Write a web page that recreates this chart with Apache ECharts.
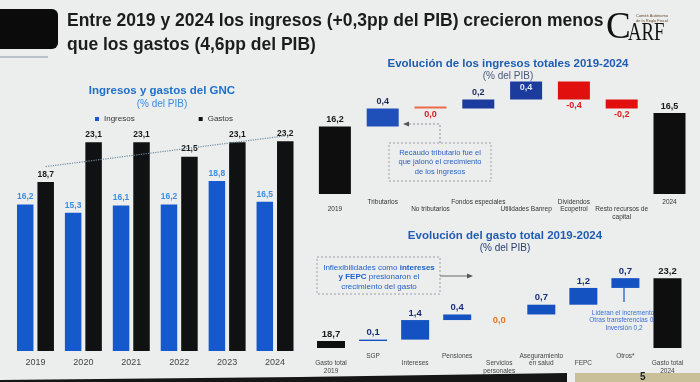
<!DOCTYPE html>
<html><head><meta charset="utf-8">
<script src="https://cdn.jsdelivr.net/npm/echarts@6/dist/echarts.min.js"></script>
<style>html,body{margin:0;padding:0;background:#eceeee}#c{width:700px;height:382px}</style>
</head><body><div id="c"></div>
<script>
// ---- Data ----
const years = ['2019','2020','2021','2022','2023','2024'];
const ingresos = [16.2,15.3,16.1,16.2,18.8,16.5];
const gastos = [18.7,23.1,23.1,21.5,23.1,23.2];
const trendGastos = [20.4, 23.8]; // dotted trend line ends read at 2019 and 2024

const incCats = ['2019','Tributarios','No tributarios','Fondos especiales','Utilidades Banrep','Dividendos\nEcopetrol','Resto recursos de\ncapital','2024'];
const incStart = 16.2, incEnd = 16.5;
const incChanges = [0.4,0.0,0.2,0.4,-0.4,-0.2];

const gasCats = ['Gasto total\n2019','SGP','Intereses','Pensiones','Servicios\npersonales','Aseguramiento\nen salud','FEPC','Otros*','Gasto total\n2024'];
const gasStart = 18.7, gasEnd = 23.2;
const gasChanges = [0.1,1.4,0.4,0.0,0.7,1.2,0.7];

const FONT = 'Liberation Sans, Arial, sans-serif';
const fmt = v => (Math.round(v*10)/10).toFixed(1).replace('.', ',');

function waterfall(start, end, changes){
  const total = [start].concat(changes.map(()=>'-')).concat([end]);
  const base = ['-'], delta = ['-'];
  let lvl = start;
  changes.forEach(c => {
    const next = Math.round((lvl + c)*100)/100;
    base.push(Math.min(lvl, next));
    delta.push(Math.abs(c));
    lvl = next;
  });
  base.push('-'); delta.push('-');
  return {total, base, delta};
}
const wInc = waterfall(incStart, incEnd, incChanges);
const wGas = waterfall(gasStart, gasEnd, gasChanges);

const incLower = [0,2,4,6];
const gasLower = [0,2,4,6,8];

function incDeltaItem(v, i){
  if (v === '-') return '-';
  const c = incChanges[i-1];
  let color = c > 0 ? (i===1 ? '#1f4fb8' : '#1b3c9c') : (c < 0 ? '#e20f0f' : '#ec6a45');
  let label;
  if (c < 0 || c === 0) label = {show:true, position:'bottom', distance:2, color:'#e21a1a', fontSize:9, fontWeight:'bold', fontFamily:FONT, formatter: () => fmt(c)};
  else if (i === 4) label = {show:true, position:'insideTop', distance:2, color:'#dfe6f5', fontSize:9, fontWeight:'bold', fontFamily:FONT, formatter: () => fmt(c)};
  else label = {show:true, position:'top', distance:2, color:'#1c2a55', fontSize:9, fontWeight:'bold', fontFamily:FONT, formatter: () => fmt(c)};
  return {value: v, itemStyle:{color}, label};
}
function gasDeltaItem(v, i){
  if (v === '-') return '-';
  const c = gasChanges[i-1];
  let label;
  if (c === 0) label = {show:true, position:'bottom', distance:1, color:'#e8731f', fontSize:9.5, fontWeight:'bold', fontFamily:FONT, formatter: () => fmt(c)};
  else label = {show:true, position:'top', distance:2, color:'#1a2f78', fontSize:9.5, fontWeight:'bold', fontFamily:FONT, formatter: () => fmt(c)};
  return {value: v, itemStyle:{color:'#1452c2'}, label};
}

const chart = echarts.init(document.getElementById('c'), null, {renderer:'canvas'});
const option = {
  backgroundColor: '#eceeee',
  animation: false,
  textStyle: {fontFamily: FONT},
  title: [
    {text:'Ingresos y gastos del GNC', subtext:'(% del PIB)', left:157, top:80, textAlign:'center', itemGap:2,
     textStyle:{color:'#1f6fc8', fontSize:11.5, fontWeight:'bold', fontFamily:FONT},
     subtextStyle:{color:'#3b8be2', fontSize:10, fontFamily:FONT}},
    {text:'Evolución de los ingresos totales 2019-2024', subtext:'(% del PIB)', left:503, top:53, textAlign:'center', itemGap:1,
     textStyle:{color:'#1f5cb3', fontSize:11.5, fontWeight:'bold', fontFamily:FONT},
     subtextStyle:{color:'#4a5878', fontSize:10, fontFamily:FONT}},
    {text:'Evolución del gasto total 2019-2024', subtext:'(% del PIB)', left:500, top:225, textAlign:'center', itemGap:1,
     textStyle:{color:'#1f5cb3', fontSize:11.5, fontWeight:'bold', fontFamily:FONT},
     subtextStyle:{color:'#2a4070', fontSize:10, fontFamily:FONT}}
  ],
  legend: {left:90, top:110, itemWidth:4, itemHeight:4, itemGap:64, icon:'rect',
    textStyle:{fontSize:8, color:'#333', fontFamily:FONT},
    data:['Ingresos','Gastos']},
  grid: [
    {left:11.5, right:401, top:125, bottom:31},
    {left:311, right:6.6, top:68, bottom:188},
    {left:310, right:11.5, top:260, bottom:34}
  ],
  xAxis: [
    {type:'category', gridIndex:0, data:years, axisLine:{show:false}, axisTick:{show:false},
     axisLabel:{fontSize:9, color:'#444', margin:7, fontFamily:FONT}},
    {type:'category', gridIndex:1, data:incCats, axisLine:{show:false}, axisTick:{show:false},
     axisLabel:{fontSize:6.5, lineHeight:7.5, color:'#333', margin:4, interval:0, fontFamily:FONT,
       formatter:(v,i)=> incLower.includes(i) ? '\n'+v : v}},
    {type:'category', gridIndex:2, data:gasCats, axisLine:{show:false}, axisTick:{show:false},
     axisLabel:{fontSize:6.5, lineHeight:7.5, color:'#444', margin:4, interval:0, fontFamily:FONT,
       formatter:(v,i)=> gasLower.includes(i) ? '\n'+v : v}}
  ],
  yAxis: [
    {type:'value', gridIndex:0, min:0, max:25, show:false},
    {type:'value', gridIndex:1, min:14.7, max:17.5, show:false},
    {type:'value', gridIndex:2, min:18.2, max:24.5, show:false}
  ],
  series: [
    {name:'Ingresos', type:'bar', xAxisIndex:0, yAxisIndex:0, data:ingresos, barWidth:16.5, barGap:'24%',
     itemStyle:{color:'#1659cc'},
     label:{show:true, position:'top', distance:3, color:'#3a8ee6', fontSize:8.5, fontWeight:'bold', fontFamily:FONT, formatter:p=>fmt(p.value)}},
    {name:'Gastos', type:'bar', xAxisIndex:0, yAxisIndex:0, data:gastos, barWidth:16.5, barGap:'24%',
     itemStyle:{color:'#101112'},
     label:{show:true, position:'top', distance:3, color:'#1a1a1a', fontSize:8.5, fontWeight:'bold', fontFamily:FONT, formatter:p=>fmt(p.value)},
     markLine:{symbol:'none', silent:true, label:{show:false},
       lineStyle:{color:'#6d8aa0', type:'dotted', width:1.2},
       data:[[{coord:[0, trendGastos[0]]},{coord:[5, trendGastos[1]]}]]}},
    // income waterfall
    {type:'bar', xAxisIndex:1, yAxisIndex:1, stack:'inc', data:wInc.total, barWidth:32,
     itemStyle:{color:'#0e0e0f'},
     label:{show:true, position:'top', distance:2, color:'#1a1a1a', fontSize:9, fontWeight:'bold', fontFamily:FONT, formatter:p=>fmt(p.value)}},
    {type:'bar', xAxisIndex:1, yAxisIndex:1, stack:'inc', data:wInc.base, barWidth:32,
     itemStyle:{color:'transparent'}, silent:true},
    {type:'bar', xAxisIndex:1, yAxisIndex:1, stack:'inc', barWidth:32, barMinHeight:2,
     data: wInc.delta.map(incDeltaItem)},
    // spending waterfall
    {type:'bar', xAxisIndex:2, yAxisIndex:2, stack:'gas', data:wGas.total, barWidth:28,
     itemStyle:{color:'#0e0e0f'},
     label:{show:true, position:'top', distance:2, color:'#1a1a1a', fontSize:9.5, fontWeight:'bold', fontFamily:FONT, formatter:p=>fmt(p.value)}},
    {type:'bar', xAxisIndex:2, yAxisIndex:2, stack:'gas', data:wGas.base, barWidth:28,
     itemStyle:{color:'transparent'}, silent:true},
    {type:'bar', xAxisIndex:2, yAxisIndex:2, stack:'gas', barWidth:28,
     data: wGas.delta.map(gasDeltaItem)}
  ],
  graphic: [
    {type:'rect', shape:{x:-6, y:9, width:64, height:40, r:6}, style:{fill:'#0b0b0b'}},
    {type:'line', shape:{x1:0, y1:57, x2:48, y2:57}, style:{stroke:'#8a98a8', lineWidth:1}},
    {type:'text', x:67, y:12, style:{text:'Entre 2019 y 2024 los ingresos (+0,3pp del PIB) crecieron menos', fill:'#1c1c1c', font:'bold 17.5px Liberation Sans'}},
    {type:'text', x:67, y:36, style:{text:'que los gastos (4,6pp del PIB)', fill:'#1c1c1c', font:'bold 17.5px Liberation Sans'}},
    // CARF logo
    {type:'text', x:606, y:10, style:{text:'C', fill:'#111', font:'37px Liberation Serif'}},
    {type:'text', x:628, y:20, scaleX:0.72, style:{text:'ARF', fill:'#111', font:'26px Liberation Serif'}},
    {type:'text', x:636, y:14, style:{text:'Comité Autónomo\nde la Regla Fiscal', fill:'#6b4a2a', font:'4px Liberation Sans', lineHeight:4.5}},
    // income annotation
    {type:'rect', shape:{x:389, y:143, width:102, height:38}, style:{fill:'none', stroke:'#9aa0a6', lineWidth:1, lineDash:[2,2]}},
    {type:'text', x:440, y:148, style:{text:'Recaudo tributario fue el\nque jalonó el crecimiento\nde los ingresos', fill:'#2a5fc2', font:'7.5px Liberation Sans', align:'center', lineHeight:9.5}},
    {type:'polyline', shape:{points:[[440,143],[440,124],[408,124]]}, style:{stroke:'#8a8f96', lineWidth:1, lineDash:[2,2], fill:'none'}},
    {type:'polygon', shape:{points:[[403,124],[409,121.5],[409,126.5]]}, style:{fill:'#555'}},
    // spending annotation
    {type:'rect', shape:{x:317, y:257, width:123, height:37}, style:{fill:'none', stroke:'#9aa0a6', lineWidth:1, lineDash:[2,2]}},
    {type:'text', x:379, y:263, style:{
      text:'{n|Inflexibilidades como }{b|intereses}\n{b|y FEPC}{n| presionaron el}\n{n|crecimiento del gasto}',
      align:'center', lineHeight:9.5,
      rich:{n:{fill:'#1f5fc8', font:'8px Liberation Sans', lineHeight:9.5}, b:{fill:'#1f5fc8', font:'bold 8px Liberation Sans', lineHeight:9.5}}}},
    {type:'line', shape:{x1:440, y1:276, x2:468, y2:276}, style:{stroke:'#666', lineWidth:1}},
    {type:'polygon', shape:{points:[[473,276],[467,273.5],[467,278.5]]}, style:{fill:'#555'}},
    // Otros annotation
    {type:'line', shape:{x1:624, y1:288, x2:624, y2:302}, style:{stroke:'#3a70d0', lineWidth:1.5}},
    {type:'text', x:624, y:309, style:{text:'Lideran el incremento:\nOtras transferencias 0,3\nInversión 0,2', fill:'#3a70d0', font:'6.5px Liberation Sans', align:'center', lineHeight:7.5}},
    // bottom photo edge
    {type:'polygon', shape:{points:[[0,380],[300,377],[567,373],[567,382],[0,382]]}, style:{fill:'#161616'}},
    {type:'rect', shape:{x:575, y:373, width:125, height:9}, style:{fill:'#c9bf98'}},
    {type:'text', x:640, y:372, style:{text:'5', fill:'#222', font:'bold 10px Liberation Sans'}}
  ]
};
chart.setOption(option);
</script>
</body></html>
